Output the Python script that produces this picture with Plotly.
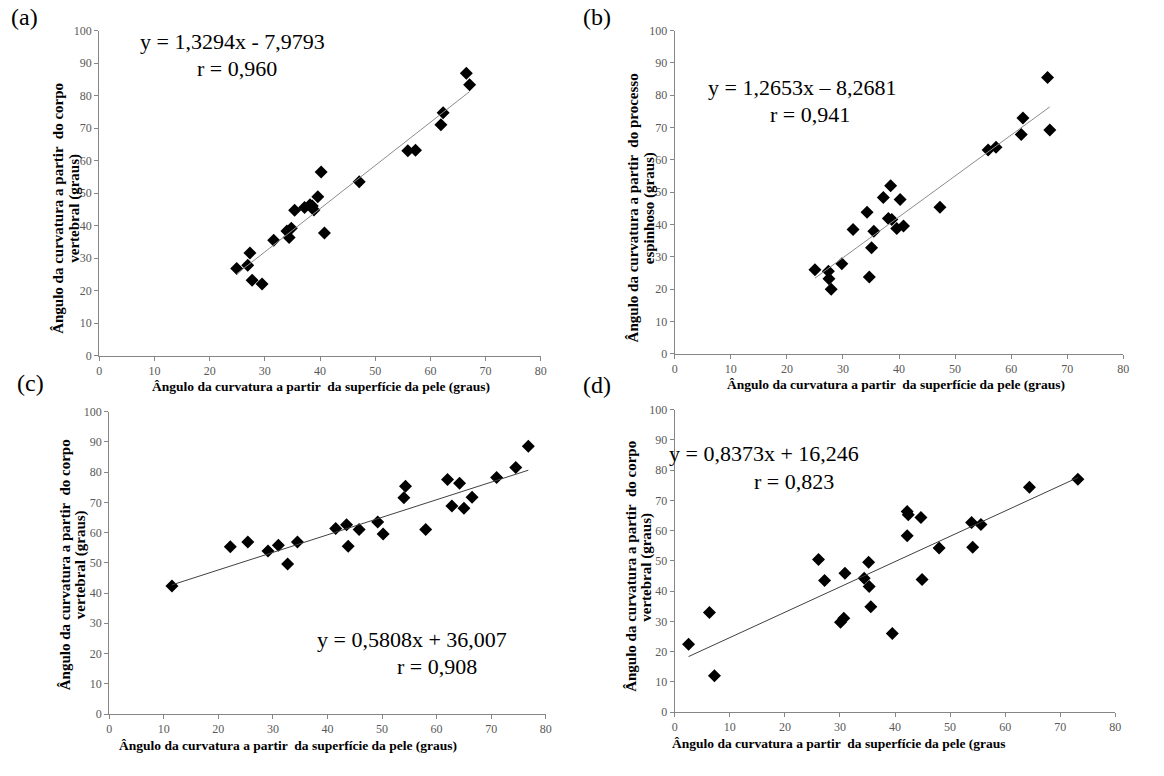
import plotly.graph_objects as go

W, H = 1164, 776

# (a) skin-surface angle vs vertebral-body angle
skin_a = [24.9, 26.9, 27.3, 27.7, 29.5, 31.6, 34.0, 34.4, 34.8, 35.4, 37.2, 38.2,
          38.6, 38.9, 39.6, 40.2, 40.8, 47.1, 55.9, 57.3, 61.9, 62.3, 66.5, 67.1]
body_a = [26.8, 27.8, 31.6, 23.2, 22.0, 35.5, 38.3, 36.3, 39.2, 44.7, 45.6, 46.4,
          46.0, 44.8, 48.9, 56.5, 37.7, 53.5, 63.0, 63.2, 71.0, 74.7, 86.9, 83.3]

# (b) skin-surface angle vs spinous-process angle
skin_b = [25.0, 27.4, 27.5, 27.9, 29.8, 31.8, 34.3, 34.7, 35.1, 35.5, 37.2, 38.1,
          38.5, 38.7, 39.6, 40.2, 40.8, 47.3, 55.9, 57.3, 61.8, 62.1, 66.5, 66.9]
spin_b = [26.0, 25.5, 23.2, 19.9, 27.8, 38.4, 43.8, 23.7, 32.8, 37.9, 48.3, 41.8,
          52.0, 41.5, 38.7, 47.7, 39.5, 45.3, 63.0, 63.9, 67.8, 72.9, 85.5, 69.2]

# (c) skin-surface angle vs vertebral-body angle
skin_c = [11.5, 22.2, 25.4, 29.1, 31.0, 32.7, 34.5, 41.5, 43.5, 43.8, 45.8, 49.2,
          50.2, 54.0, 54.3, 58.0, 62.0, 62.8, 64.2, 65.0, 66.5, 71.0, 74.5, 76.8]
body_c = [42.3, 55.3, 56.9, 53.9, 55.8, 49.6, 56.9, 61.3, 62.6, 55.5, 61.0, 63.5,
          59.5, 71.5, 75.3, 61.0, 77.5, 68.8, 76.3, 68.0, 71.7, 78.2, 81.5, 88.5]

# (d) skin-surface angle vs vertebral-body angle
skin_d = [2.5, 6.3, 7.2, 26.1, 27.2, 30.1, 30.7, 30.9, 34.4, 35.2, 35.3, 35.6,
          39.5, 42.2, 42.4, 42.2, 44.7, 44.9, 48.0, 53.9, 54.1, 55.6, 64.4, 73.2]
body_d = [22.4, 32.9, 12.0, 50.4, 43.5, 29.7, 31.0, 45.9, 44.2, 49.5, 41.5, 34.8,
          26.0, 66.3, 65.2, 58.3, 64.3, 43.8, 54.2, 62.7, 54.5, 62.0, 74.3, 77.0]

# regression coefficients (slope, intercept) and their printed labels
fits = {
    "a": (1.3294, -7.9793, "y = 1,3294x - 7,9793", "r = 0,960"),
    "b": (1.2653, -8.2681, "y = 1,2653x \u2013 8,2681", "r = 0,941"),
    "c": (0.5808, 36.007, "y = 0,5808x + 36,007", "r = 0,908"),
    "d": (0.8373, 16.246, "y = 0,8373x + 16,246", "r = 0,823"),
}

x_ticks = list(range(0, 81, 10))
y_ticks = list(range(0, 101, 10))

x_title = "\u00c2ngulo da curvatura a partir  da superf\u00edcie da pele (graus)"
x_title_d = "\u00c2ngulo da curvatura a partir  da superf\u00edcie da pele (graus"
y_title_body = ("\u00c2ngulo da curvatura a partir  do corpo", "vertebral (graus)")
y_title_spin = ("\u00c2ngulo da curvatura a partir  do processo", "espinhoso (graus)")

SERIF = "Liberation Serif"

# plot-area boxes in pixels: left, right, top, bottom
boxes = {
    "a": (97, 542, 24, 355),
    "b": (677, 1129, 24, 353),
    "c": (107, 547, 412, 720),
    "d": (677, 1121, 410, 718),
}

# text placement in pixels
letter_pos = {"a": (6, 10), "b": (582, 10), "c": (12, 383), "d": (583, 385)}
xtitle_pos = {"a": (320, 386), "b": (900, 384), "c": (287, 752), "d": (843, 750)}
# x of the two rotated title lines, shared vertical centre
ytitle_pos = {"a": (56, 72, 205), "b": (635, 651, 205),
              "c": (62, 78, 568), "d": (633, 649, 570)}
eq_pos = {"a": (231, 35), "b": (805, 82), "c": (412, 644), "d": (767, 455)}
r_pos = {"a": (236, 63), "b": (813, 109), "c": (437, 672), "d": (797, 483)}

panels = [
    ("a", skin_a, body_a, y_title_body, x_title, "#8c8c8c"),
    ("b", skin_b, spin_b, y_title_spin, x_title, "#8c8c8c"),
    ("c", skin_c, body_c, y_title_body, x_title, "#404040"),
    ("d", skin_d, body_d, y_title_body, x_title_d, "#404040"),
]


def px(x, y):
    return x / W, 1 - y / H


def label(text, x, y, size, bold=False, angle=0, xanchor="center"):
    fx, fy = px(x, y)
    return dict(
        text=("<b>%s</b>" % text) if bold else text,
        xref="paper", yref="paper", x=fx, y=fy,
        xanchor=xanchor, yanchor="middle", textangle=angle,
        showarrow=False, font=dict(family=SERIF, size=size, color="black"))


fig = go.Figure()
layout = {}
annotations = []

for i, (key, xs, ys, ytitle, xtitle, line_col) in enumerate(panels):
    n = "" if i == 0 else str(i + 1)
    xa, ya = "x" + n, "y" + n
    left, right, top, bottom = boxes[key]
    slope, icpt, eq_txt, r_txt = fits[key]

    fig.add_trace(go.Scatter(
        x=xs, y=ys, mode="markers", xaxis=xa, yaxis=ya,
        marker=dict(symbol="diamond", size=10, color="black"),
        showlegend=False, hoverinfo="skip"))

    # trend line over the observed range
    x0, x1 = min(xs), max(xs)
    fig.add_trace(go.Scatter(
        x=[x0, x1], y=[slope * x0 + icpt, slope * x1 + icpt],
        mode="lines", xaxis=xa, yaxis=ya,
        line=dict(color=line_col, width=1),
        showlegend=False, hoverinfo="skip"))

    axis_common = dict(
        showline=True, linecolor="#868686", linewidth=1,
        ticks="outside", ticklen=4, tickcolor="#868686",
        showgrid=False, zeroline=False, fixedrange=True,
        tickfont=dict(family=SERIF, size=12, color="#595959"),
    )
    layout["xaxis" + n] = dict(
        axis_common, domain=[left / W, right / W], range=[0, 80],
        tickvals=x_ticks, anchor=ya)
    layout["yaxis" + n] = dict(
        axis_common, domain=[1 - bottom / H, 1 - top / H], range=[0, 100],
        tickvals=y_ticks, anchor=xa)

    annotations.append(label(xtitle, *xtitle_pos[key], 13.5, bold=True))
    lx1, lx2, ly = ytitle_pos[key]
    annotations.append(label(ytitle[0], lx1, ly, 15, bold=True, angle=-90))
    annotations.append(label(ytitle[1], lx2, ly, 15, bold=True, angle=-90))
    annotations.append(label("(" + key + ")", *letter_pos[key], 24, xanchor="left"))
    annotations.append(label(eq_txt, *eq_pos[key], 22))
    annotations.append(label(r_txt, *r_pos[key], 22))

fig.update_layout(
    width=W, height=H, margin=dict(l=0, r=0, t=0, b=0),
    paper_bgcolor="white", plot_bgcolor="white",
    annotations=annotations, **layout)

fig.write_html("out.html")
